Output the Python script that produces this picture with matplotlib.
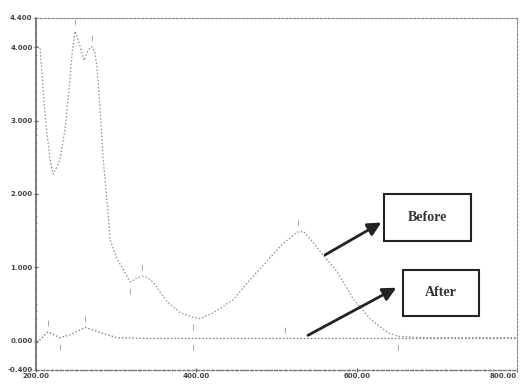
import numpy as np
import matplotlib
matplotlib.use("Agg")
import matplotlib.pyplot as plt
from matplotlib.patches import Rectangle
from matplotlib.ticker import MultipleLocator

# spectrum (wavelength nm, absorbance)
before_wl = [201.25, 205, 207.5, 210, 213.75, 217.5, 221.25, 226.25, 230, 236.25, 240, 242.5,
             245, 248.75, 253.75, 260, 265, 270, 273.75, 276.25, 280, 283.75, 287.5, 292.5,
             301.25, 310, 317.5, 325, 332.5, 338.75, 346.25, 355, 363.75, 380, 396.25, 405,
             421.25, 433.75, 446.25, 467.5, 483.75, 505, 517.5, 526.25, 533.75, 542.5, 555,
             576.25, 596.25, 617.5, 638.75, 651.25, 680, 730, 800]
before_abs = [4.01, 3.99, 3.64, 3.23, 2.82, 2.48, 2.27, 2.37, 2.48, 2.89, 3.30, 3.58,
              3.92, 4.22, 4.06, 3.82, 3.96, 4.01, 3.92, 3.71, 3.16, 2.48, 2.04, 1.38,
              1.11, 0.95, 0.80, 0.85, 0.88, 0.86, 0.80, 0.66, 0.53, 0.38, 0.32, 0.30,
              0.38, 0.47, 0.56, 0.84, 1.03, 1.29, 1.41, 1.48, 1.49, 1.38, 1.21,
              0.93, 0.56, 0.29, 0.11, 0.06, 0.04, 0.04, 0.04]

after_wl = [201.25, 207.5, 215, 222.5, 230, 242.5, 261.25, 270, 280, 301.25, 342.5, 530, 800]
after_abs = [-0.03, 0.04, 0.12, 0.08, 0.04, 0.08, 0.18, 0.15, 0.11, 0.04, 0.03, 0.03, 0.03]

# peak / valley picks printed by the instrument
peak_wl = [248.75, 270, 332.5, 526.25, 215, 261.25, 511]
peak_abs = [4.22, 4.01, 0.88, 1.49, 0.12, 0.18, 0.03]
valley_wl = [317.5, 396.25, 230, 396.25, 651.25, 800]
valley_abs = [0.80, 0.30, 0.04, 0.03, 0.03, 0.03]

xticks = [200, 400, 600, 800]
xtick_labels = ["200.00", "400.00", "600.00", "800.00"]
yticks = [-0.4, 0, 1, 2, 3, 4, 4.4]
ytick_labels = ["-0.400", "0.000", "1.000", "2.000", "3.000", "4.000", "4.400"]

fig = plt.figure(figsize=(5.24, 3.85), dpi=100)
ax = fig.add_axes([36 / 524, 1 - 370 / 385, (517 - 36) / 524, (370 - 18) / 385])

ax.plot(before_wl, before_abs, color="#8f8f8f", lw=0.9, ls=(0, (1.2, 1.6)))
ax.plot(after_wl, after_abs, color="#7a7a7a", lw=0.9, ls=(0, (1.2, 1.6)))

# small instrument pick marks
ax.plot(peak_wl, np.array(peak_abs) + 0.12, ls="none", marker="|", ms=4, color="#999999", mew=0.6)
ax.plot(valley_wl, np.array(valley_abs) - 0.12, ls="none", marker="|", ms=4, color="#999999", mew=0.6)

ax.set_xlim(200, 800)
ax.set_ylim(-0.4, 4.4)
ax.set_xticks(xticks)
ax.set_xticklabels(xtick_labels)
ax.set_yticks(yticks)
ax.set_yticklabels(ytick_labels)
ax.xaxis.set_minor_locator(MultipleLocator(10))
ax.yaxis.set_minor_locator(MultipleLocator(0.1))
ax.tick_params(axis="both", which="major", labelsize=5, length=3, width=0.8,
               direction="inout", colors="#555555", pad=1)
ax.tick_params(axis="both", which="minor", length=1.5, width=0.5,
               direction="inout", colors="#888888")
for lab in ax.get_xticklabels() + ax.get_yticklabels():
    lab.set_fontweight("bold")
    lab.set_color("#444444")
ax.get_xticklabels()[-1].set_horizontalalignment("right")

for side in ["top", "right"]:
    ax.spines[side].set_linestyle((0, (2, 1.5)))
    ax.spines[side].set_color("#888888")
    ax.spines[side].set_linewidth(0.8)
ax.spines["left"].set_color("#666666")
ax.spines["left"].set_linewidth(1.2)
ax.spines["bottom"].set_color("#777777")
ax.spines["bottom"].set_linestyle((0, (2, 1.5)))
ax.spines["bottom"].set_linewidth(1.0)

# labelled boxes with arrows
ax.add_patch(Rectangle((633.75, 1.356), 108.75, 0.644, fill=False, ec="#222222", lw=1.5))
ax.text(688, 1.68, "Before", ha="center", va="center", fontsize=10, fontweight="bold",
        family="Liberation Serif", color="#333333")
ax.add_patch(Rectangle((657.5, 0.33), 95, 0.64, fill=False, ec="#222222", lw=1.5))
ax.text(705, 0.65, "After", ha="center", va="center", fontsize=10, fontweight="bold",
        family="Liberation Serif", color="#333333")

ax.annotate("", xy=(633.75, 1.63), xytext=(557.5, 1.15),
            arrowprops=dict(arrowstyle="-|>,head_length=0.8,head_width=0.4", color="#222222", lw=2))
ax.annotate("", xy=(652.5, 0.74), xytext=(536.25, 0.055),
            arrowprops=dict(arrowstyle="-|>,head_length=0.8,head_width=0.4", color="#222222", lw=2))

fig.savefig("out.png", dpi=100)
